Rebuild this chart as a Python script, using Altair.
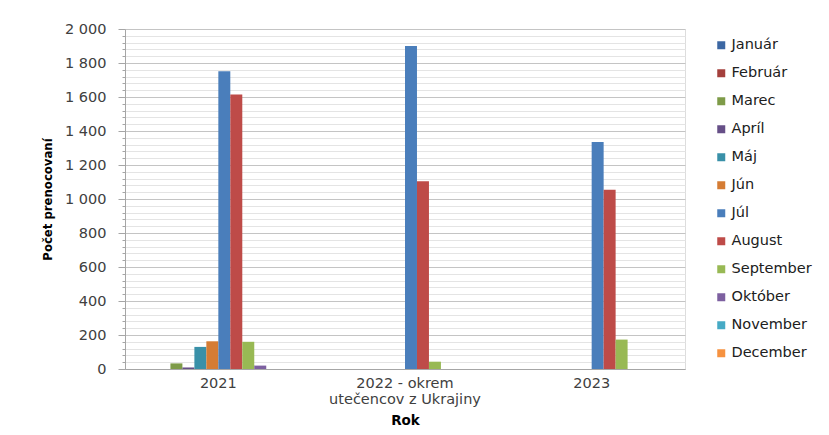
import altair as alt
import pandas as pd

years = ["2021", "2022 - okrem|utečencov z Ukrajiny", "2023"]
months = ["Január", "Február", "Marec", "Apríl", "Máj", "Jún",
          "Júl", "August", "September", "Október", "November", "December"]
colors = ["#3C67A3", "#A4403D", "#7E9B48", "#664F87", "#3990A8", "#D57C34",
          "#4A7EBB", "#BE4B48", "#98B954", "#7D60A0", "#46AAC5", "#F69240"]

v2021 = [0, 0, 33, 9, 130, 163, 1752, 1615, 160, 20, 0, 0]
v2022 = [0, 0, 0, 0, 0, 0, 1900, 1105, 43, 0, 0, 0]
v2023 = [0, 0, 0, 0, 0, 0, 1335, 1055, 173, 0, 0, 0]

rows = []
for y, vals in zip(years, [v2021, v2022, v2023]):
    for m, v in zip(months, vals):
        rows.append({"year": y, "month": m, "value": v})
df = pd.DataFrame(rows)

font = "DejaVu Sans"

chart = alt.Chart(df).mark_bar().encode(
    x=alt.X("year:N", sort=years,
            scale=alt.Scale(paddingInner=0.23, paddingOuter=0.115),
            axis=alt.Axis(title="Rok", labelExpr="split(datum.value, '|')",
                          labelAngle=0, ticks=False, domainColor="#A6A6A6",
                          labelFont=font, labelFontSize=14.5, labelColor="#404040",
                          labelPadding=7, labelLineHeight=16,
                          titleFont=font, titleFontSize=13.5, titleFontWeight="bold",
                          titleColor="#000000", titlePadding=8)),
    xOffset=alt.XOffset("month:N", sort=months,
                        scale=alt.Scale(paddingInner=0, paddingOuter=0)),
    y=alt.Y("value:Q",
            scale=alt.Scale(domain=[0, 2000], nice=False),
            axis=alt.Axis(title="Počet prenocovaní",
                          values=list(range(0, 2001, 40)),
                          labelExpr="datum.value % 200 === 0 ? replace(format(datum.value, ','), ',', ' ') : ''",
                          gridColor=alt.condition("datum.value % 200 === 0", alt.value("#C4C4C4"), alt.value("#E4E4E4")),
                          tickSize=alt.condition("datum.value % 200 === 0", alt.value(7), alt.value(3)),
                          tickColor="#A6A6A6", domainColor="#A6A6A6",
                          labelFont=font, labelFontSize=14.5, labelColor="#404040",
                          labelPadding=12,
                          titleFont="DejaVu Sans Condensed, Roboto Condensed, Roboto",
                          titleFontSize=13,
                          titleFontWeight="bold", titleColor="#000000",
                          titlePadding=10)),
    color=alt.Color("month:N", sort=months,
                    scale=alt.Scale(domain=months, range=colors),
                    legend=alt.Legend(title=None, orient="none",
                                      legendX=589, legendY=9,
                                      symbolType="square", symbolSize=64,
                                      symbolStrokeWidth=0,
                                      labelFont=font, labelFontSize=14.5,
                                      labelColor="#202020",
                                      rowPadding=13, padding=0, labelOffset=3)),
).properties(
    width=560, height=340,
    autosize=alt.AutoSizeParams(type="none"),
    padding={"left": 117, "top": 21, "right": 136, "bottom": 58},
).configure_view(stroke=None).configure(background="white")

chart.save("out.html", embed_options={"renderer": "svg", "actions": False})
